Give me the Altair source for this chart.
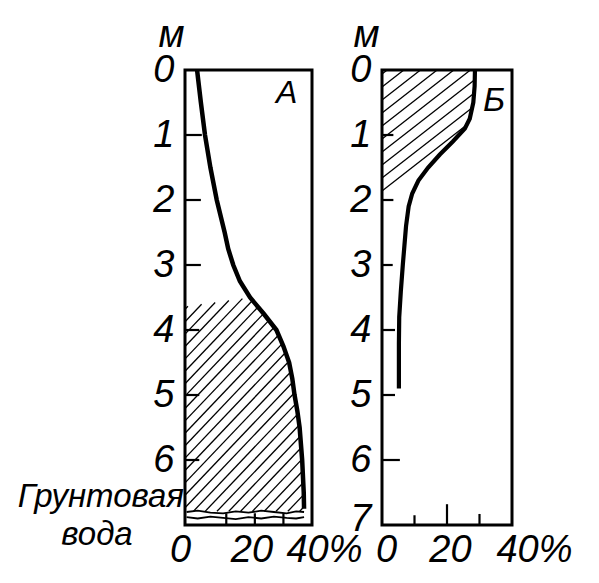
import altair as alt
import numpy as np
import pandas as pd

FONT = "Liberation Sans Narrow, Liberation Sans, sans-serif"
NUM_SIZE = 38

# ---------------- data ----------------
# Panel А: moisture (%) vs depth (m)
a_depth = [0.0, 0.5, 1.0, 1.5, 2.0, 2.5, 2.75, 3.0, 3.25, 3.5, 3.75, 4.0, 4.25,
           4.5, 4.75, 5.0, 5.25, 5.5, 6.0, 6.5, 6.75]
a_moist = [3.8, 5.0, 6.3, 8.0, 10.0, 12.5, 13.6, 15.2, 17.3, 20.5, 24.8, 28.8, 31.0,
           32.8, 33.8, 34.5, 35.4, 36.1, 36.9, 37.4, 37.5]

# Panel Б
b_depth = [0.0, 0.25, 0.5, 0.75, 0.9, 1.1, 1.3, 1.5, 1.7, 1.9, 2.1, 2.4, 2.7,
           3.0, 3.4, 3.8, 4.2, 4.9]
b_moist = [28.6, 28.5, 28.1, 27.0, 25.5, 21.8, 17.8, 14.2, 11.2, 9.3, 8.2, 7.4, 6.9,
           6.4, 5.8, 5.3, 5.2, 5.2]

# inward depth ticks
a_tick_depth = [1, 2, 3, 4, 5, 6]
a_tick_len = [5.3, 5.0, 5.0, 4.5, 4.5, 4.5]
b_tick_depth = [1, 2, 3, 4, 5, 6]
b_tick_len = [3.5, 3.5, 3.3, 4.0, 4.0, 5.5]

# bottom ticks
a_bot_tick_x = [13, 22, 31]
a_bot_tick_top = [6.82, 6.82, 6.82]
b_bot_tick_x = [10, 20, 30]
b_bot_tick_top = [6.85, 6.68, 6.83]

# ground-water wavy lines in panel А
wave_x = [0.5, 4, 8, 12, 16, 20, 24, 28, 32, 35, 37.5]
wave1_d = [6.80, 6.78, 6.81, 6.82, 6.79, 6.81, 6.78, 6.80, 6.82, 6.79, 6.80]
wave2_d = [6.88, 6.90, 6.87, 6.89, 6.91, 6.88, 6.90, 6.87, 6.89, 6.90, 6.88]

# hatch boundaries
a_hatch_top_x = [0, 20.5]
a_hatch_top_d = [3.64, 3.5]
a_hatch_bot = 6.79
b_hatch_last = 1.95   # depth where the last hatch line meets the left edge

y_values_a = [0, 1, 2, 3, 4, 5, 6]
y_values_b = [0, 1, 2, 3, 4, 5, 6, 7]
x_values = [0, 20, 40]

# ---------------- layout ----------------
H = 455
WA = 127
WB = 130
SY = H / 7.0


def hatch(curve_d, curve_v, sx, slope, spacing, c_start, c_end, top_x, top_d, d_bot):
    px = np.linspace(0, 40 * sx, 1601)
    x = px / sx
    top = np.interp(x, top_x, top_d)
    rows = []
    for C in np.arange(c_start, c_end, spacing):
        d = (C - slope * px) / SY
        cv = np.interp(d, curve_d, curve_v)
        ok = (d >= top) & (d <= d_bot) & (x <= cv)
        idx = np.flatnonzero(ok)
        if idx.size < 2:
            continue
        br = np.flatnonzero(np.diff(idx) > 1)
        starts = np.r_[idx[0], idx[br + 1]]
        ends = np.r_[idx[br], idx[-1]]
        for s, e in zip(starts, ends):
            if e > s:
                rows.append(dict(x=x[s], d=d[s], x2=x[e], d2=d[e]))
    return pd.DataFrame(rows)


sxa = WA / 40.0
sxb = WB / 40.0
hatch_a = hatch(a_depth, a_moist, sxa, 1.05, 12.4, 3.3 * SY,
                a_hatch_bot * SY + 1.05 * WA + 12, a_hatch_top_x, a_hatch_top_d, a_hatch_bot)
hatch_b = hatch(b_depth, b_moist, sxb, 0.78, 13.0, 4.0,
                b_hatch_last * SY + 0.5, [0, 40], [0.0, 0.0], 7.0)

xscale = alt.Scale(domain=[0, 40], nice=False, zero=False)
yscale = alt.Scale(domain=[0, 7], reverse=True, nice=False, zero=False)


def xaxis(offsets):
    o0, o20, o40 = offsets
    return alt.Axis(values=x_values, title=None, ticks=False, domain=False, grid=False,
                    labelFlush=False, labelOverlap=False, labelPadding=6,
                    labelFont=FONT, labelFontSize=NUM_SIZE, labelFontStyle="italic",
                    labelColor="black",
                    labelExpr="datum.value == 40 ? '40%' : datum.label",
                    labelOffset={"expr": f"datum.value == 40 ? {o40} : (datum.value == 0 ? {o0} : {o20})"})


def yaxis(values, tx, ty):
    return alt.Axis(values=values, title="м", titleAngle=0, titleX=tx, titleY=ty,
                    titleAlign="center", titleBaseline="alphabetic",
                    titleFont=FONT, titleFontSize=NUM_SIZE, titleFontStyle="italic",
                    titleFontWeight="normal", titleColor="black",
                    labelFont=FONT, labelFontSize=NUM_SIZE, labelFontStyle="italic",
                    labelColor="black",
                    labelOffset={"expr": "datum.value == 7 ? -6 : 0"},
                    ticks=False, domain=False, grid=False, labelPadding=11,
                    labelFlush=False, labelOverlap=False)


def panel(curve_d, curve_v, hatch_df, tick_d, tick_len, bt_x, bt_top, yvals, width,
          xoff, tx, ty, letter, letter_x, letter_d, letter_size, curve_w, extra=None):
    X = lambda f: alt.X(f, type="quantitative", scale=xscale, axis=xaxis(xoff))
    Y = lambda f: alt.Y(f, type="quantitative", scale=yscale, axis=yaxis(yvals, tx, ty))

    curve = pd.DataFrame({"x": curve_v, "d": curve_d})
    ticks = pd.DataFrame({"x": [0.0] * len(tick_d), "x2": tick_len, "d": tick_d, "d2": tick_d})
    bticks = pd.DataFrame({"x": bt_x, "x2": bt_x, "d": bt_top, "d2": [7.0] * len(bt_x)})
    lab = pd.DataFrame({"x": [letter_x], "d": [letter_d], "t": [letter]})

    layers = [
        alt.Chart(hatch_df).mark_rule(color="black", strokeWidth=1.3).encode(
            x=X("x"), x2="x2", y=Y("d"), y2="d2"),
        alt.Chart(curve).mark_line(color="black", strokeWidth=curve_w).encode(
            x=X("x"), y=Y("d"), order="d:Q"),
        alt.Chart(ticks).mark_rule(color="black", strokeWidth=2.2).encode(
            x=X("x"), x2="x2", y=Y("d"), y2="d2"),
        alt.Chart(bticks).mark_rule(color="black", strokeWidth=2.2).encode(
            x=X("x"), x2="x2", y=Y("d"), y2="d2"),
        alt.Chart(lab).mark_text(font=FONT, fontStyle="italic", fontSize=letter_size,
                                 color="black", align="center", baseline="middle").encode(
            x=X("x"), y=Y("d"), text="t:N"),
    ]
    if extra:
        layers += [e(X, Y) for e in extra]
    return alt.layer(*layers).properties(width=width, height=H)


def waves(X, Y):
    df = pd.DataFrame({"x": wave_x + wave_x, "d": wave1_d + wave2_d,
                       "s": ["a"] * len(wave_x) + ["b"] * len(wave_x)})
    return alt.Chart(df).mark_line(color="black", strokeWidth=1.8).encode(
        x=X("x"), y=Y("d"), detail="s:N", order="x:Q")


def gw_text1(X, Y):
    df = pd.DataFrame({"x": [0.0], "d": [6.72], "t": ["Грунтовая"]})
    return alt.Chart(df).mark_text(font=FONT, fontStyle="italic", fontSize=33, color="black",
                                   baseline="alphabetic", align="right", dx=-1).encode(
        x=X("x"), y=Y("d"), text="t:N")


def gw_text2(X, Y):
    df = pd.DataFrame({"x": [0.0], "d": [7.3], "t": ["вода"]})
    return alt.Chart(df).mark_text(font=FONT, fontStyle="italic", fontSize=33, color="black",
                                   baseline="alphabetic", align="center", dx=-88).encode(
        x=X("x"), y=Y("d"), text="t:N")


pa = panel(a_depth, a_moist, hatch_a, a_tick_depth, a_tick_len, a_bot_tick_x, a_bot_tick_top,
           y_values_a, WA, (-5, 3, 12), -14, -24, "А", 32, 0.36, 32, 4.5,
           extra=[waves, gw_text1, gw_text2])
pb = panel(b_depth, b_moist, hatch_b, b_tick_depth, b_tick_len, b_bot_tick_x, b_bot_tick_top,
           y_values_b, WB, (4, 3, 22), -16, -24, "Б", 34.5, 0.48, 34, 4.2)

chart = alt.hconcat(pa, pb, spacing=70, bounds="flush").properties(
    padding={"left": 8, "top": 6, "right": 5, "bottom": 5},
    background="white"
).configure_view(stroke="black", strokeWidth=3)

chart.save("out.html", embed_options={"renderer": "svg", "actions": False})
